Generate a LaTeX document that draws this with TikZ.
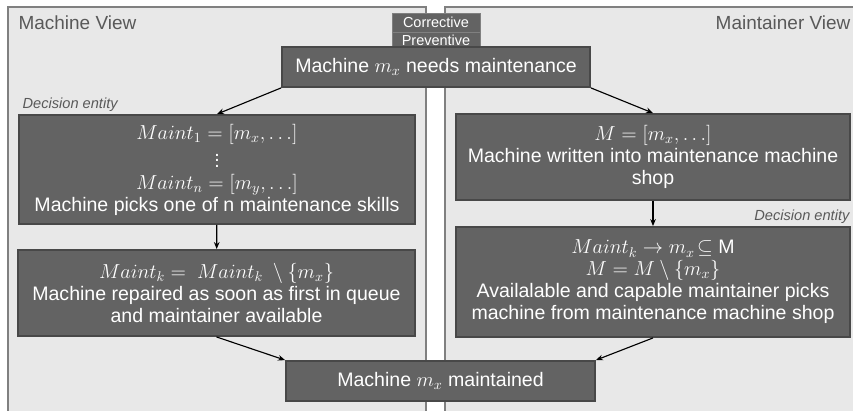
\documentclass[tikz,border=0pt]{standalone}
\usepackage{amsmath,amssymb}
\usepackage{fontspec}
\setmainfont{Liberation Sans}
\usepackage{tikz}
\usetikzlibrary{positioning, arrows.meta}
\definecolor{boxfill}{RGB}{99,99,99}
\definecolor{boxline}{RGB}{72,72,72}
\definecolor{panelfill}{RGB}{232,232,232}
\definecolor{panelline}{RGB}{128,128,128}
\definecolor{labelgray}{RGB}{89,89,89}
\tikzset{
	viewpanel/.style={fill=panelfill, draw=panelline, line width=0.8pt}
}
\tikzset{
	procbox/.style={fill=boxfill, draw=boxline, line width=1.3pt, text=white, align=center,
		inner sep=0pt, font=\fontsize{13.9}{15.6}\selectfont}
}
\tikzset{
	tagbox/.style={fill=boxfill, draw=panelline, line width=0.6pt, text=white, inner sep=0pt,
		minimum width=2.2cm, minimum height=0.475cm, font=\fontsize{10.3}{12}\selectfont}
}
\tikzset{
	viewtext/.style={inner sep=0pt, font=\fontsize{13.5}{16}\selectfont\color{labelgray}},
	decisiontext/.style={inner sep=0pt, font=\fontsize{10.4}{12}\selectfont\itshape\color{labelgray}}
}
\newcommand{\mt}{Maint}

\begin{document}
\begin{tikzpicture}[x=0.025cm, y=-0.025cm, line width=0.8pt, >={Stealth[length=5pt, width=4pt]}]
      \useasboundingbox (0,0) rectangle (853,410);
      % the two views
      \draw[viewpanel] (8,7) rectangle (426,420);
      \draw[viewpanel] (445,7) rectangle (860,420);
      \node[viewtext, anchor=base west] (mview) at (18,29) {Machine View};
      \node[viewtext, anchor=base east] (tview) at (851,29) {Maintainer View};
      % kind of maintenance
      \node[tagbox] (corrective) at (436,22.5) {Corrective};
      \node[tagbox, minimum height=0.375cm, below=0pt of corrective] (preventive) {Preventive};
      % start and end
      \node[procbox, minimum width=7.7cm, minimum height=1cm] (needs) at (436,67)
        {Machine $m_x$ needs maintenance};
      \node[procbox, minimum width=7.725cm, minimum height=1cm] (maintained) at (440.5,381)
        {Machine $m_x$ maintained};
      % machine side
      \node[decisiontext, anchor=base west] (mdecision) at (22,108) {Decision entity};
      \node[procbox, minimum width=9.9cm, minimum height=2.725cm] (picks) at (217,169.5)
        {$\mt_1 = [m_x, \ldots]$\\ $\vdots$\\ $\mt_n = [m_y, \ldots]$\\
         Machine picks one of n maintenance skills};
      \node[procbox, minimum width=9.925cm, minimum height=2.15cm] (repaired) at (216.5,293)
        {$\mt_k =\ \mt_k\ \setminus \{m_x\}$\\
         Machine repaired as soon as first in queue\\ and maintainer available};
      % maintainer side
      \node[procbox, minimum width=9.85cm, minimum height=2.15cm] (written) at (653,157)
        {$M = [m_x, \ldots]$\\ Machine written into maintenance machine\\ shop};
      \node[decisiontext, anchor=base east] (tdecision) at (850,220) {Decision entity};
      \node[procbox, minimum width=9.85cm, minimum height=2.75cm] (capable) at (653,282)
        {$\mt_k \rightarrow m_x\!\subseteq$ M\\ $M = M \setminus \{m_x\}$\\
         Availalable and capable maintainer picks\\ machine from maintenance machine shop};
      % flow
      \draw[->] (needs.south west) -- (picks.north);
      \draw[->] (needs.south east) -- (written.north);
      \draw[->] (picks) -- (repaired);
      \draw[->] (written) -- (capable);
      \draw[->] (repaired.south) -- (maintained.north west);
      \draw[->] (capable.south) -- (maintained.north east);
    \end{tikzpicture}
\end{document}
